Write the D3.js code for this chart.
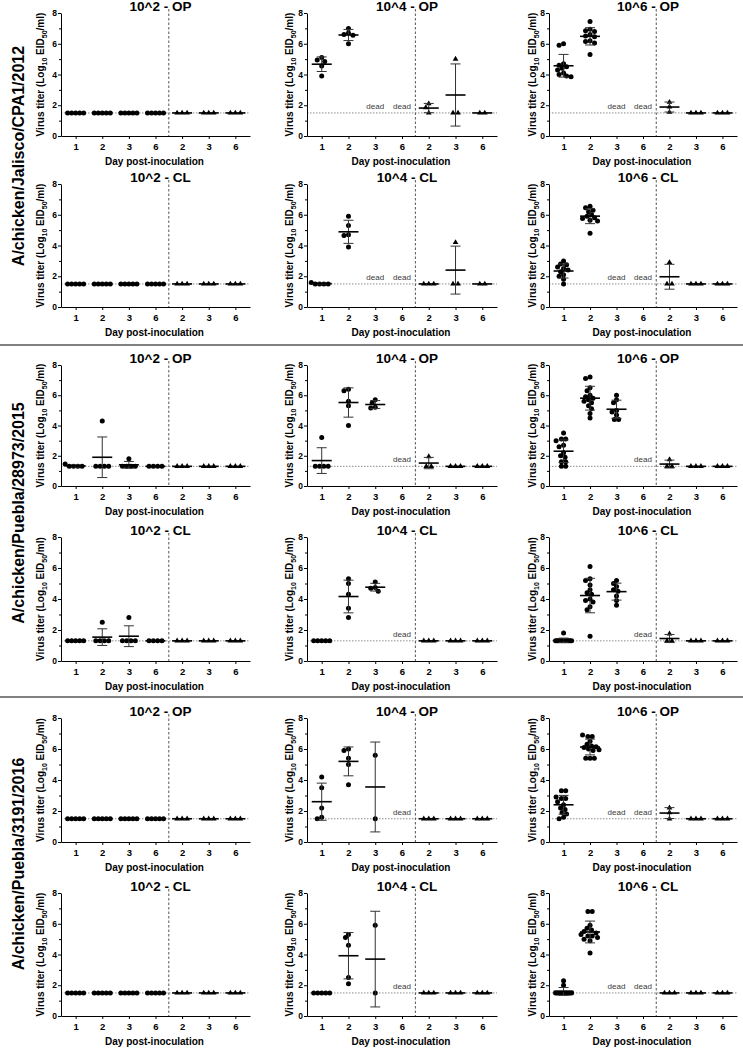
<!DOCTYPE html>
<html><head><meta charset="utf-8">
<script src="https://cdn.jsdelivr.net/npm/d3@7"></script>
<style>body{margin:0;background:#fff}svg{display:block}text{font-family:"Liberation Sans",Arial,sans-serif}</style>
</head><body><svg id="c" width="743" height="1049"></svg>
<script>
// ---------- labels ----------
const strains = ["A/chicken/Jalisco/CPA1/2012", "A/chicken/Puebla/28973/2015", "A/chicken/Puebla/3191/2016"];
const doseLabels = ["10^2", "10^4", "10^6"];
const routeLabels = ["OP", "CL"];
const dayKeys = ["i1", "i2", "i3", "i6", "c2", "c3", "c6"];
const dayLabels = ["1", "2", "3", "6", "2", "3", "6"];
const lodValues = [1.5, 1.3, 1.5];
const yTickValues = [0, 2, 4, 6, 8];
const yMinorTicks = [1, 3, 5, 7];
const yMax = 8;
const deadText = "dead";
const xTitle = "Day post-inoculation";

// ---------- values (7 groups: inoculated d1,d2,d3,d6 ; contacts d2,d3,d6). [] = dead ----------
// A/chicken/Jalisco/CPA1/2012
const J_e2_OP = [[1.5,1.5,1.5,1.5,1.5],[1.5,1.5,1.5,1.5,1.5],[1.5,1.5,1.5,1.5,1.5],[1.5,1.5,1.5,1.5,1.5],[1.5,1.5,1.5],[1.5,1.5,1.5],[1.5,1.5,1.5]];
const J_e4_OP = [[5.1,4.95,4.85,4.55,3.9],[7.0,6.7,6.6,6.55,6.0],[],[],[2.1,1.85,1.5],[5.0,1.5,1.5],[1.5,1.5]];
const J_e6_OP = [[6.0,5.9,4.7,4.6,4.5,4.4,4.3,4.1,4.0,3.9,3.85],[7.45,6.95,6.85,6.8,6.6,6.5,6.45,6.2,6.15,6.05,5.3],[],[],[2.2,1.9,1.55],[1.5,1.5,1.5],[1.5,1.5,1.5]];
const J_e2_CL = [[1.5,1.5,1.5,1.5,1.5],[1.5,1.5,1.5,1.5,1.5],[1.5,1.5,1.5,1.5,1.5],[1.5,1.5,1.5,1.5,1.5],[1.5,1.5,1.5],[1.5,1.5,1.5],[1.5,1.5,1.5]];
const J_e4_CL = [[1.6,1.5,1.5,1.5,1.5],[5.9,5.3,4.7,4.65,3.9],[],[],[1.5,1.5,1.5],[4.2,1.5,1.5],[1.5,1.5]];
const J_e6_CL = [[3.0,2.8,2.75,2.6,2.5,2.4,2.3,2.1,2.0,1.8,1.5],[6.55,6.45,6.3,6.2,6.0,5.9,5.8,5.75,5.65,5.6,4.8],[],[],[2.9,1.5,1.5],[1.5,1.5,1.5],[1.5,1.5,1.5]];
// A/chicken/Puebla/28973/2015
const P1_e2_OP = [[1.45,1.3,1.3,1.3,1.3],[4.3,1.3,1.3,1.3,1.3],[1.8,1.3,1.3,1.3,1.3],[1.3,1.3,1.3,1.3],[1.3,1.3,1.3],[1.3,1.3,1.3],[1.3,1.3,1.3]];
const P1_e4_OP = [[3.2,1.3,1.3,1.3,1.3],[6.4,6.3,5.6,5.3,4.0],[5.7,5.5,5.2,5.15],[],[1.95,1.3,1.3],[1.3,1.3,1.3],[1.3,1.3,1.3]];
const P1_e6_OP = [[3.5,3.1,3.1,3.0,2.7,2.6,2.2,2.0,1.9,1.6,1.6,1.3,1.3],[7.2,7.1,6.5,6.3,6.0,5.9,5.8,5.7,5.6,5.5,5.3,5.1,4.8,4.5],[6.0,5.7,5.5,5.0,4.9,4.7,4.4,4.4],[],[1.75,1.3,1.3],[1.3,1.3,1.3],[1.3,1.3,1.3]];
const P1_e2_CL = [[1.3,1.3,1.3,1.3,1.3],[2.5,1.3,1.3,1.3,1.3],[2.8,1.3,1.3,1.3,1.3],[1.3,1.3,1.3,1.3],[1.3,1.3,1.3],[1.3,1.3,1.3],[1.3,1.3,1.3]];
const P1_e4_CL = [[1.3,1.3,1.3,1.3,1.3],[5.3,5.0,4.3,3.4,2.8],[5.1,4.75,4.7,4.5],[],[1.3,1.3,1.3],[1.3,1.3,1.3],[1.3,1.3,1.3]];
const P1_e6_CL = [[1.8,1.3,1.3,1.3,1.3,1.3,1.3,1.3,1.3,1.3,1.3,1.3,1.3],[6.1,5.3,5.2,4.9,4.6,4.4,4.3,4.0,3.9,3.8,3.5,3.3,1.6],[5.2,5.0,4.8,4.6,4.5,4.2,3.9,3.6],[],[1.75,1.3,1.3],[1.3,1.3,1.3],[1.3,1.3,1.3]];
// A/chicken/Puebla/3191/2016
const P2_e2_OP = [[1.5,1.5,1.5,1.5,1.5],[1.5,1.5,1.5,1.5,1.5],[1.5,1.5,1.5,1.5,1.5],[1.5,1.5,1.5,1.5,1.5],[1.5,1.5,1.5],[1.5,1.5,1.5],[1.5,1.5,1.5]];
const P2_e4_OP = [[4.2,3.5,2.2,1.6,1.5],[6.0,5.9,5.4,5.0,3.7],[5.6,1.5],[],[1.5,1.5,1.5],[1.5,1.5,1.5],[1.5,1.5,1.5]];
const P2_e6_OP = [[3.3,3.3,2.9,2.8,2.8,2.6,2.4,2.2,2.1,1.9,1.8,1.6,1.5],[6.9,6.8,6.8,6.5,6.3,6.2,6.15,6.1,6.0,5.95,5.9,5.4,5.4,5.4],[],[],[2.2,1.9,1.5],[1.5,1.5,1.5],[1.5,1.5,1.5]];
const P2_e2_CL = [[1.5,1.5,1.5,1.5,1.5],[1.5,1.5,1.5,1.5,1.5],[1.5,1.5,1.5,1.5,1.5],[1.5,1.5,1.5,1.5,1.5],[1.5,1.5,1.5],[1.5,1.5,1.5],[1.5,1.5,1.5]];
const P2_e4_CL = [[1.5,1.5,1.5,1.5,1.5],[5.3,5.1,4.6,2.5,2.1],[5.9,1.5],[],[1.5,1.5,1.5],[1.5,1.5,1.5],[1.5,1.5,1.5]];
const P2_e6_CL = [[2.3,2.0,1.5,1.5,1.5,1.5,1.5,1.5,1.5,1.5,1.5,1.5,1.5],[6.8,6.8,5.9,5.7,5.6,5.5,5.4,5.3,5.2,5.2,5.1,5.0,4.9,4.1],[],[],[1.5,1.5,1.5],[1.5,1.5,1.5],[1.5,1.5,1.5]];

// table [strain][dose][route]
const panelTable = [
  [[J_e2_OP, J_e2_CL], [J_e4_OP, J_e4_CL], [J_e6_OP, J_e6_CL]],
  [[P1_e2_OP, P1_e2_CL], [P1_e4_OP, P1_e4_CL], [P1_e6_OP, P1_e6_CL]],
  [[P2_e2_OP, P2_e2_CL], [P2_e4_OP, P2_e4_CL], [P2_e6_OP, P2_e6_CL]]
];

// ---------- layout ----------
const colGeom = [
  {ax: 61, end: 250, ylab: -17},
  {ax: 307, end: 497, ylab: -14},
  {ax: 549, end: 737, ylab: -13}
];
const subRowGeom = [
  {top: 13, bottom: 136}, {top: 184, bottom: 307},
  {top: 365, bottom: 486}, {top: 537, bottom: 661},
  {top: 718, bottom: 842}, {top: 893, bottom: 1016}
];
const strainLabelY = [156, 513, 864];
const separatorsY = [345, 697];
const FONT = '"Liberation Sans", Arial, sans-serif';

const svg = d3.select("#c");

function swarm(vals, yS, tri) {
  const pts = vals.map(v => ({v, py: yS(v), dx: null}));
  const placed = [];
  const spMax = tri ? 5 : 4.3;
  for (const [v, arr] of d3.group(pts, p => p.v)) {
    if (arr.length > 1) {
      const n = arr.length, sp = Math.min(spMax, 16 / (n - 1));
      arr.forEach((p, i) => { p.dx = (i - (n - 1) / 2) * sp; placed.push(p); });
    }
  }
  const singles = pts.filter(p => p.dx === null).sort((a, b) => a.py - b.py);
  const minD = 4.2, step = 1.5;
  for (const p of singles) {
    let best = 0;
    for (let k = 0; k < 80; k++) {
      const off = k === 0 ? 0 : (k % 2 === 1 ? -Math.ceil(k / 2) * step : Math.ceil(k / 2) * step);
      if (placed.every(q => Math.hypot(q.dx - off, q.py - p.py) >= minD)) { best = off; break; }
    }
    p.dx = best; placed.push(p);
  }
  return pts;
}

function styleAxis(sel, size) {
  sel.attr("font-family", FONT).attr("font-weight", "bold").attr("font-size", size);
  sel.selectAll("text").attr("fill", "#000");
  sel.selectAll("line,path").attr("stroke", "#000").attr("stroke-width", 1);
}

strains.forEach((strain, s) => {
  routeLabels.forEach((route, r) => {
    const rg = subRowGeom[s * 2 + r];
    doseLabels.forEach((dose, d) => {
      const cg = colGeom[d];
      const data = panelTable[s][d][r];
      const lod = lodValues[s];
      const g = svg.append("g");
      const y = d3.scaleLinear().domain([0, yMax]).range([rg.bottom, rg.top]);
      const x = d3.scalePoint().domain(dayKeys).range([cg.ax, cg.end]).padding(0.55);

      g.append("line").attr("x1", cg.ax).attr("x2", cg.end).attr("y1", y(lod)).attr("y2", y(lod))
        .attr("stroke", "#8c8c8c").attr("stroke-width", 1).attr("stroke-dasharray", "1.5,1.5");
      const xm = (x("i6") + x("c2")) / 2;
      g.append("line").attr("x1", xm).attr("x2", xm).attr("y1", y(yMax) - 4).attr("y2", y(0))
        .attr("stroke", "#555").attr("stroke-width", 1).attr("stroke-dasharray", "2.5,2");

      const xa = g.append("g").attr("transform", `translate(0,${y(0)})`)
        .call(d3.axisBottom(x).tickSize(3).tickPadding(4).tickSizeOuter(0).tickFormat((k, i) => dayLabels[i]));
      styleAxis(xa, 9.5);
      const ya = g.append("g").attr("transform", `translate(${cg.ax},0)`)
        .call(d3.axisLeft(y).tickValues(yTickValues).tickSize(3).tickPadding(1).tickSizeOuter(0).tickFormat(d3.format("d")));
      styleAxis(ya, 8.5);
      const ym = g.append("g").attr("transform", `translate(${cg.ax},0)`)
        .call(d3.axisLeft(y).tickValues(yMinorTicks).tickSize(2).tickFormat(""));
      ym.select(".domain").remove();
      styleAxis(ym, 8);

      dayKeys.forEach((k, gi) => {
        const vals = data[gi];
        const cx = x(k);
        const tri = gi >= 4;
        if (!vals.length) {
          g.append("text").attr("x", cx).attr("y", y(lod) - 4).attr("text-anchor", "middle")
            .attr("font-size", 8).attr("fill", "#3a3a3a").text(deadText);
          return;
        }
        const pts = swarm(vals, y, tri);
        if (tri) {
          const sym = d3.symbol().type(d3.symbolTriangle).size(14);
          g.selectAll(null).data(pts).join("path")
            .attr("transform", p => `translate(${cx + p.dx},${p.py})`).attr("d", sym).attr("fill", "#000");
        } else {
          g.selectAll(null).data(pts).join("circle")
            .attr("cx", p => cx + p.dx).attr("cy", p => p.py).attr("r", 2.5).attr("fill", "#000");
        }
        const m = d3.mean(vals);
        const sd = vals.length > 1 ? d3.deviation(vals) : 0;
        if (sd > 0.001) {
          const eb = g.append("g").attr("stroke", "#333").attr("stroke-width", 1);
          eb.append("line").attr("x1", cx).attr("x2", cx).attr("y1", y(m - sd)).attr("y2", y(m + sd));
          [m - sd, m + sd].forEach(v => eb.append("line").attr("x1", cx - 5).attr("x2", cx + 5).attr("y1", y(v)).attr("y2", y(v)));
        }
        g.append("line").attr("x1", cx - 10).attr("x2", cx + 10).attr("y1", y(m)).attr("y2", y(m))
          .attr("stroke", "#000").attr("stroke-width", 1.6);
      });

      g.append("text").attr("x", (cg.ax + cg.end) / 2 + 5).attr("y", y(yMax) - 2).attr("text-anchor", "middle")
        .attr("font-size", 13.5).attr("font-weight", "bold").text(`${dose} - ${route}`);
      g.append("text").attr("x", (cg.ax + cg.end) / 2 - 1).attr("y", y(0) + 29).attr("text-anchor", "middle")
        .attr("font-size", 10).attr("font-weight", "bold").text(xTitle);
      const yl = g.append("text").attr("transform", `translate(${cg.ax + cg.ylab},${(y(0) + y(yMax)) / 2}) rotate(-90)`)
        .attr("text-anchor", "middle").attr("font-size", 10).attr("font-weight", "bold");
      yl.append("tspan").text("Virus titer (Log");
      yl.append("tspan").attr("dy", 3).attr("font-size", 7).text("10");
      yl.append("tspan").attr("dy", -3).text(" EID");
      yl.append("tspan").attr("dy", 3).attr("font-size", 7).text("50");
      yl.append("tspan").attr("dy", -3).text("/ml)");
    });
  });
  svg.append("text").attr("transform", `translate(24,${strainLabelY[s]}) rotate(-90)`)
    .attr("text-anchor", "middle").attr("font-size", 16).attr("font-weight", "bold").text(strain);
});

separatorsY.forEach(sy => svg.append("line").attr("x1", 0).attr("x2", 743).attr("y1", sy).attr("y2", sy)
  .attr("stroke", "#000").attr("stroke-width", 1));
</script></body></html>
